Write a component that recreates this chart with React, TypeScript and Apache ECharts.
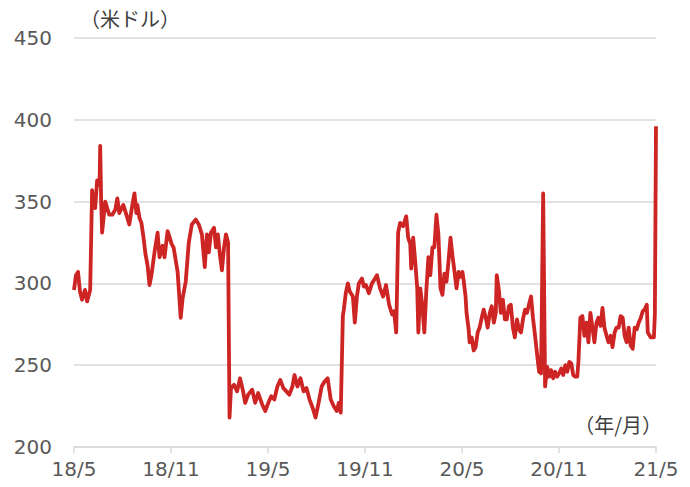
import React, { useEffect, useRef } from "react";
import * as echarts from "echarts";

// x: months elapsed since 2018/5 ; y: price (US$)
const monthOffsets: number[] = [
  0.00, 0.12, 0.25, 0.37, 0.50, 0.68, 0.81, 1.00, 1.12, 1.18, 1.31, 1.43, 1.58, 1.62, 1.68, 1.74, 1.93, 2.18, 2.37, 2.55,
  2.68, 2.80, 3.05, 3.24, 3.42, 3.61, 3.74, 3.86, 3.92, 4.05, 4.17, 4.30, 4.42, 4.55, 4.67, 4.79, 4.98, 5.17, 5.29, 5.48,
  5.60, 5.79, 5.92, 6.04, 6.16, 6.41, 6.60, 6.72, 6.91, 7.10, 7.29, 7.53, 7.72, 7.91, 8.09, 8.22, 8.34, 8.47, 8.66, 8.78,
  8.90, 9.03, 9.15, 9.28, 9.40, 9.53, 9.62, 9.71, 9.90, 10.09, 10.27, 10.46, 10.59, 10.77, 11.02, 11.21, 11.39, 11.64, 11.83, 12.02,
  12.20, 12.39, 12.58, 12.76, 12.95, 13.14, 13.32, 13.51, 13.64, 13.82, 14.01, 14.20, 14.38, 14.57, 14.76, 14.94, 15.13, 15.32, 15.50, 15.69,
  15.88, 16.06, 16.25, 16.38, 16.50, 16.63, 16.69, 16.81, 16.94, 17.06, 17.25, 17.37, 17.50, 17.62, 17.81, 17.93, 18.06, 18.24, 18.43, 18.56,
  18.74, 18.93, 19.12, 19.30, 19.49, 19.68, 19.80, 19.93, 20.05, 20.17, 20.36, 20.55, 20.67, 20.80, 20.86, 20.98, 21.11, 21.23, 21.30, 21.42,
  21.54, 21.67, 21.79, 21.92, 22.04, 22.17, 22.29, 22.42, 22.54, 22.67, 22.79, 22.91, 23.04, 23.16, 23.29, 23.41, 23.54, 23.66, 23.79, 23.91,
  24.03, 24.10, 24.22, 24.28, 24.41, 24.47, 24.60, 24.72, 24.84, 24.97, 25.09, 25.22, 25.34, 25.47, 25.59, 25.72, 25.84, 25.97, 26.09, 26.15,
  26.28, 26.40, 26.53, 26.65, 26.77, 26.90, 27.02, 27.15, 27.27, 27.40, 27.52, 27.65, 27.77, 27.90, 28.02, 28.14, 28.27, 28.39, 28.52, 28.64,
  28.77, 28.89, 29.02, 29.14, 29.27, 29.39, 29.51, 29.64, 29.76, 29.89, 30.01, 30.14, 30.26, 30.39, 30.51, 30.64, 30.76, 30.88, 31.01, 31.13,
  31.20, 31.32, 31.45, 31.57, 31.69, 31.82, 31.94, 32.07, 32.19, 32.32, 32.44, 32.57, 32.69, 32.81, 32.94, 33.06, 33.19, 33.31, 33.44, 33.56,
  33.69, 33.81, 33.94, 34.06, 34.18, 34.31, 34.43, 34.56, 34.68, 34.81, 34.93, 35.06, 35.18, 35.30, 35.43, 35.49, 35.68, 35.87, 35.93, 36.00,
];

const prices: number[] = [
  296, 305, 307, 295, 290, 296, 289, 296, 357, 351, 346, 363, 360, 384, 350, 331, 350, 342, 342, 345,
  352, 343, 348, 342, 336, 348, 355, 343, 348, 340, 337, 328, 318, 311, 299, 305, 319, 331, 316, 323,
  316, 332, 328, 324, 322, 307, 279, 291, 301, 325, 336, 339, 336, 330, 310, 330, 319, 331, 334, 322,
  330, 317, 308, 322, 330, 325, 218, 236, 238, 234, 242, 234, 227, 232, 235, 227, 233, 226, 222, 227,
  231, 229, 237, 241, 236, 234, 232, 237, 244, 237, 242, 234, 236, 229, 224, 218, 227, 237, 240, 242,
  229, 225, 222, 227, 221, 280, 284, 294, 300, 295, 292, 276, 292, 300, 303, 298, 299, 294, 300, 302,
  305, 297, 292, 299, 287, 281, 283, 270, 331, 337, 335, 341, 328, 324, 309, 328, 313, 297, 270, 297,
  287, 270, 295, 316, 305, 322, 322, 342, 330, 297, 293, 306, 301, 313, 328, 317, 307, 297, 307, 304,
  307, 302, 292, 282, 272, 264, 267, 259, 261, 270, 273, 279, 284, 279, 273, 282, 286, 276, 282, 305,
  296, 282, 290, 278, 278, 286, 287, 273, 267, 278, 272, 270, 278, 284, 282, 287, 292, 279, 268, 257,
  246, 245, 355, 237, 249, 243, 247, 242, 246, 243, 245, 248, 244, 250, 246, 252, 251, 244, 243, 243,
  252, 279, 280, 268, 276, 264, 282, 273, 264, 276, 279, 274, 285, 273, 268, 264, 268, 261, 270, 273,
  273, 280, 279, 268, 264, 273, 262, 260, 273, 272, 276, 279, 283, 284, 287, 270, 267, 267, 281, 396,
];

const yTicks: number[] = [200, 250, 300, 350, 400, 450];
const startYear = 18;
const startMonth = 5;

const labelFont = "'DejaVu Sans', 'Noto Sans CJK JP', sans-serif";
const jpFont = "'Noto Sans CJK JP', 'DejaVu Sans', sans-serif";

function monthLabel(v: number): string {
  const idx = startMonth - 1 + Math.round(v);
  const y = startYear + Math.floor(idx / 12);
  const m = (idx % 12) + 1;
  return `${y}/${m}`;
}

export default function App() {
  const ref = useRef<HTMLDivElement>(null);

  useEffect(() => {
    if (!ref.current) return;
    const chart = echarts.init(ref.current, undefined, { renderer: "svg" });
    const data = monthOffsets.map((m, i) => [m, prices[i]]);
    chart.setOption({
      animation: false,
      backgroundColor: "#ffffff",
      grid: { left: 74, right: 34, top: 38, bottom: 40 },
      xAxis: {
        type: "value",
        min: 0,
        max: 36,
        interval: 6,
        axisLine: { show: true, lineStyle: { color: "#d9d9d9", width: 1.5 } },
        axisTick: { show: true, length: 6, lineStyle: { color: "#d9d9d9", width: 1.5 } },
        splitLine: { show: false },
        axisLabel: {
          color: "#595959",
          fontSize: 20,
          fontFamily: labelFont,
          margin: 12,
          formatter: (v: number) => monthLabel(v),
        },
      },
      yAxis: {
        type: "value",
        min: yTicks[0],
        max: yTicks[yTicks.length - 1],
        interval: 50,
        axisLine: { show: false },
        axisTick: { show: false },
        splitLine: { show: true, lineStyle: { color: "#d9d9d9", width: 1.5 } },
        axisLabel: {
          color: "#595959",
          fontSize: 20,
          fontFamily: labelFont,
          margin: 22,
        },
      },
      graphic: [
        {
          type: "text",
          left: 80,
          top: 8,
          style: { text: "（米ドル）", fill: "#404040", fontSize: 20, fontFamily: jpFont },
        },
        {
          type: "text",
          right: 28,
          top: 414,
          style: { text: "（年/月）", fill: "#404040", fontSize: 20, fontFamily: jpFont },
        },
      ],
      series: [
        {
          type: "line",
          data,
          showSymbol: false,
          symbol: "none",
          lineStyle: { color: "#cd2424", width: 3.8, join: "round" },
          itemStyle: { color: "#cd2424" },
        },
      ],
    });
    return () => chart.dispose();
  }, []);

  return (
    <div
      ref={ref}
      style={{ position: "fixed", left: 0, top: 0, width: 690, height: 487, background: "#fff" }}
    />
  );
}
